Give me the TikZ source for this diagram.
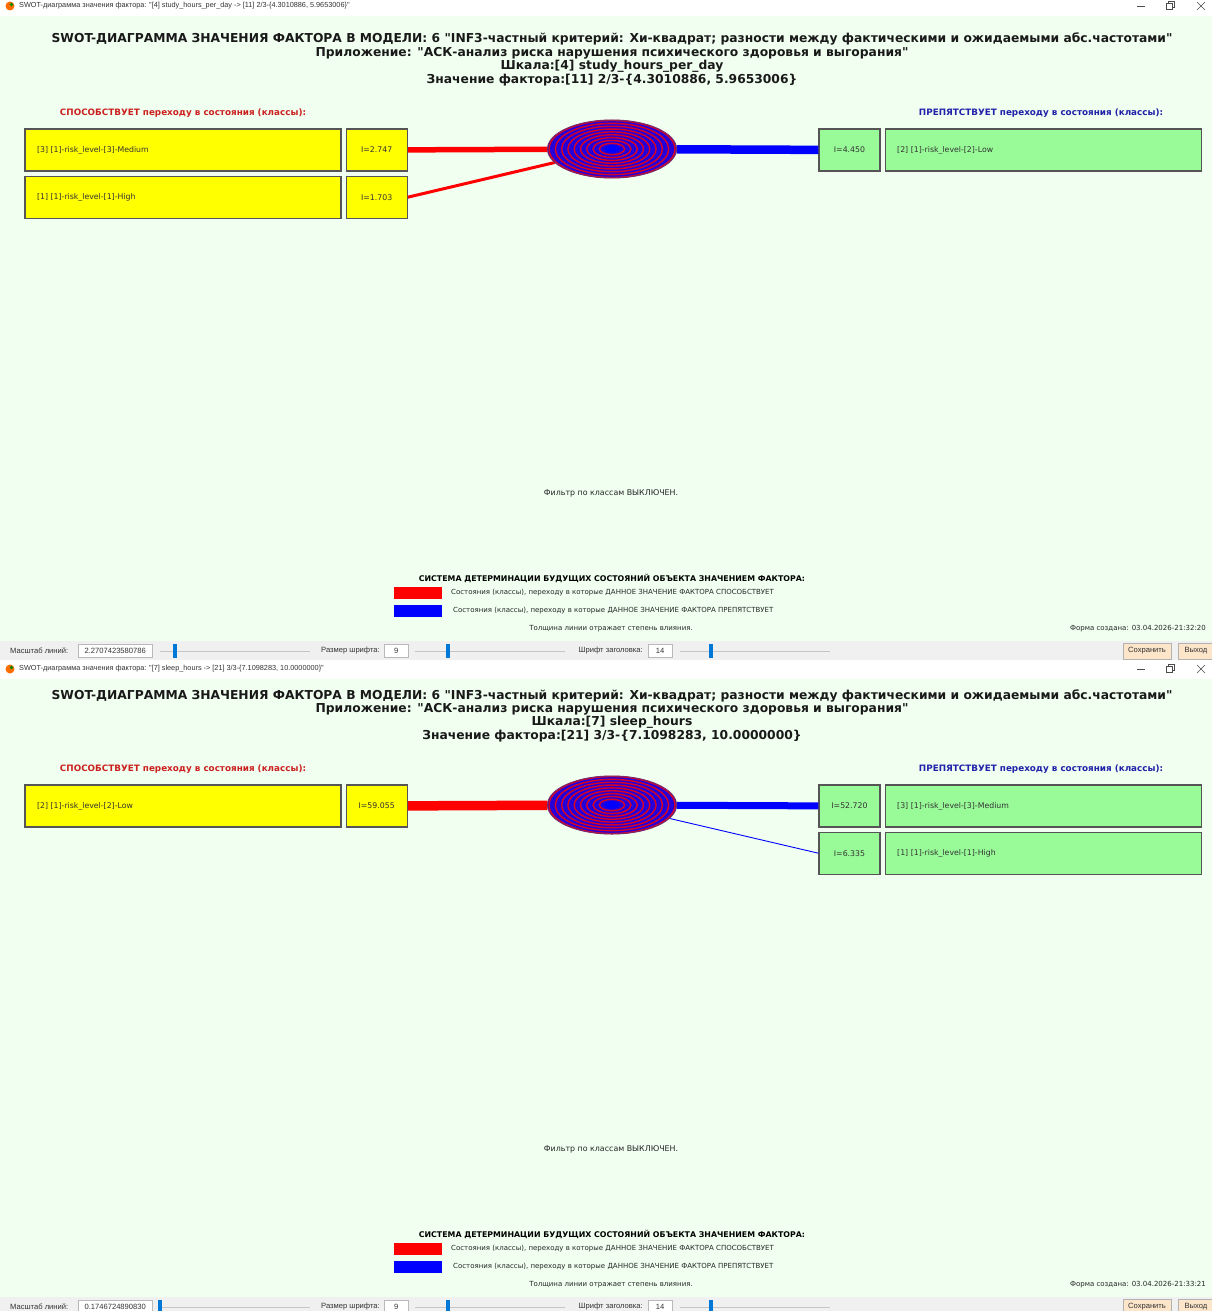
\documentclass[tikz,border=0pt]{standalone}
\usepackage{fontspec}
\setmainfont{DejaVu Sans}[Ligatures=TeXOff]
\newfontfamily\uifont{Liberation Sans}[Ligatures=TeXOff]
\usetikzlibrary{positioning}
\usetikzlibrary{shapes.geometric}
\definecolor{formbg}{HTML}{F0FFF0}
\definecolor{barbg}{HTML}{F0F0F0}
\definecolor{boxyellow}{HTML}{FFFF00}
\definecolor{boxgreen}{HTML}{98FB98}
\definecolor{boxedge}{HTML}{555555}
\definecolor{prored}{HTML}{CC2020}
\definecolor{conblue}{HTML}{2020AA}
\definecolor{thumbblue}{HTML}{0078D7}
\definecolor{btnfill}{HTML}{FDE5C9}
\definecolor{ringedge}{HTML}{7A2A6A}
\newcommand{\swottitle}{\fontsize{12.3}{13.4}\selectfont\bfseries}
\newcommand{\swothead}{\fontsize{8.8}{10}\selectfont\bfseries}
\newcommand{\swotcell}{\fontsize{7.8}{9}\selectfont}
\newcommand{\swotsmall}{\fontsize{7}{8}\selectfont}
\newcommand{\swotui}{\uifont\fontsize{7.6}{8}\selectfont}
\tikzset{cellbox/.style = {draw=boxedge, line width=1.2pt, minimum height=42pt,
                           inner sep=0pt, font=\swotcell, text=black!80}}
\tikzset{probox/.style = {cellbox, fill=boxyellow, text width=292pt, inner xsep=12pt, align=left}}
\tikzset{proval/.style = {cellbox, fill=boxyellow, minimum width=61pt}}
\tikzset{conbox/.style = {cellbox, fill=boxgreen, text width=292pt, inner xsep=12pt, align=left}}
\tikzset{conval/.style = {cellbox, fill=boxgreen, minimum width=61pt}}
\tikzset{hubnode/.style = {ellipse, minimum width=129pt, minimum height=58pt, inner sep=0pt}}
\tikzset{proline/.style = {red}}
\tikzset{conline/.style = {blue}}
\tikzset{smalltext/.style = {font=\swotsmall, inner sep=0pt, text=black!85}}
\tikzset{bartext/.style = {font=\swotui, inner sep=0pt, text=black!80}}
\tikzset{editbox/.style = {draw=gray!55, fill=white, minimum height=13pt, inner sep=0pt,
                           font=\swotui, text=black!80}}
\tikzset{swatch/.style = {minimum width=48pt, minimum height=12pt, inner sep=0pt}}
\tikzset{button/.style = {draw=gray!60, fill=btnfill, minimum height=16pt, inner sep=0pt,
                          font=\swotui, text=black!80}}

% common part of one form
\newcommand{\swotform}[5]{%
  \fill [formbg] (0,14) rectangle (1212,641);
  \node (title) [font=\swottitle, align=center, inner sep=0pt, text=black!90] at (612,59.5)
    {SWOT-ДИАГРАММА ЗНАЧЕНИЯ ФАКТОРА В МОДЕЛИ: 6 "INF3-частный критерий: Хи-квадрат; разности между фактическими и ожидаемыми абс.частотами"\\
     Приложение: "АСК-анализ риска нарушения психического здоровья и выгорания"\\
     Шкала:#1\\
     Значение фактора:#2};
  \node (prohead) [font=\swothead, text=prored, inner sep=0pt] at (183,113) {СПОСОБСТВУЕТ переходу в состояния (классы):};
  \node (conhead) [font=\swothead, text=conblue, inner sep=0pt] at (1041,113) {ПРЕПЯТСТВУЕТ переходу в состояния (классы):};
  \node (filter) [smalltext, font=\fontsize{7.9}{9}\selectfont] at (611,493) {Фильтр по классам ВЫКЛЮЧЕН.};
  \node (legend) [smalltext, font=\fontsize{7.85}{9}\selectfont\bfseries, text=black] at (612,578)
    {СИСТЕМА ДЕТЕРМИНАЦИИ БУДУЩИХ СОСТОЯНИЙ ОБЪЕКТА ЗНАЧЕНИЕМ ФАКТОРА:};
  \node (swpro) [swatch, fill=red] at (418,593) {};
  \node (txpro) [smalltext, anchor=west] at (451,593) {Состояния (классы), переходу в которые ДАННОЕ ЗНАЧЕНИЕ ФАКТОРА СПОСОБСТВУЕТ};
  \node (swcon) [swatch, fill=blue] at (418,611) {};
  \node (txcon) [smalltext, anchor=west] at (453,611) {Состояния (классы), переходу в которые ДАННОЕ ЗНАЧЕНИЕ ФАКТОРА ПРЕПЯТСТВУЕТ};
  \node (thick) [smalltext] at (611,629) {Толщина линии отражает степень влияния.};
  \node (created) [smalltext, anchor=east] at (1206,629) {Форма создана: #5};
  % status bar
  \fill [barbg] (0,641) rectangle (1212,660);
  \node (lscale) [bartext, anchor=west] at (10,651) {Масштаб линий:};
  \node (lsbox) [editbox, minimum width=74pt, anchor=west] at (78,651) {#3};
  \draw [gray!45] (160,651) -- (310,651);
  \fill [thumbblue] (#4-2,644) rectangle (#4+2,658);
  \node (fsize) [bartext, anchor=east] at (380,651) {Размер шрифта:};
  \node (fsbox) [editbox, minimum width=24pt, anchor=west] at (384,651) {9};
  \draw [gray!45] (415,651) -- (565,651);
  \fill [thumbblue] (446,644) rectangle (450,658);
  \node (hsize) [bartext, anchor=east] at (643,651) {Шрифт заголовка:};
  \node (hsbox) [editbox, minimum width=24pt, anchor=west] at (648,651) {14};
  \draw [gray!45] (680,651) -- (830,651);
  \fill [thumbblue] (709,644) rectangle (713,658);
  \node (save) [button, minimum width=48pt] at (1147,651) {Сохранить};
  \node (quit) [button, minimum width=36pt] at (1196,651) {Выход};
}

% rings of the factor value
\newcommand{\swotrings}{%
  \fill [blue!85!red] (hub.center) ellipse [x radius=64.5, y radius=29];
  \foreach \k [evaluate=\k as \rx using 6.3*\k, evaluate=\k as \ry using 2.85*\k] in {2,...,10}
    \draw [red!85!blue, line width=1.4pt] (hub.center) ellipse [x radius=\rx, y radius=\ry];
  \draw [ringedge, line width=1pt] (hub.center) ellipse [x radius=64.5, y radius=29];
  \fill [blue] (hub.center) ellipse [x radius=8, y radius=3.8];
}

% window caption
\newcommand{\swotcaption}[2]{%
  \fill [white] (0,#1-8) rectangle (1212,#1+10);
  \fill [orange!85!red] (10,#1) circle [radius=4.5];
  \fill [green!55!black] (11.5,#1-1.5) circle [radius=1.8];
  \node (caption) [bartext, font=\uifont\fontsize{7.3}{8}\selectfont, anchor=west] at (19,#1) {#2};
  \draw [black!70] (1137,#1) -- (1145,#1);
  \draw [black!70] (1166,#1-2.5) rectangle (1172,#1+3.5);
  \draw [black!70] (1168,#1-2.5) -- (1168,#1-4.5) -- (1174,#1-4.5) -- (1174,#1+1.5) -- (1172,#1+1.5);
  \draw [black!70] (1197,#1-4) -- (1205,#1+4);
  \draw [black!70] (1197,#1+4) -- (1205,#1-4);
}

\begin{document}
\begin{tikzpicture}[x=1pt, y=-1pt]
  \useasboundingbox (0,0) rectangle (1212,1311);
  % first form
  \swotform{[4] study\_hours\_per\_day}{[11] 2/3-\{4.3010886, 5.9653006\}}{2.2707423580786}{175}{03.04.2026-21:32:20}
  \node (lab1) [probox] at (183,150) {[3] [1]-risk\_level-[3]-Medium};
  \node (val1) [proval, right=4pt of lab1] {I=2.747};
  \node (lab2) [probox, below=4pt of lab1] {[1] [1]-risk\_level-[1]-High};
  \node (val2) [proval, right=4pt of lab2] {I=1.703};
  \node (rval1) [conval] at (849.5,150) {I=4.450};
  \node (rlab1) [conbox, right=4pt of rval1] {[2] [1]-risk\_level-[2]-Low};
  \node (hub) [hubnode] at (612,149) {};
  \draw [proline, line width=5.5pt] (val1) -- (hub);
  \draw [proline, line width=3pt] (val2.east) -- (hub);
  \draw [conline, line width=8.5pt] (hub) -- (rval1);
  \swotrings
  \swotcaption{6}{SWOT-диаграмма значения фактора: "[4] study\_hours\_per\_day -> [11] 2/3-\{4.3010886, 5.9653006\}"}

  % second form
  \begin{scope}[shift={(0,656)}, name prefix=b-]
    \swotform{[7] sleep\_hours}{[21] 3/3-\{7.1098283, 10.0000000\}}{0.1746724890830}{160}{03.04.2026-21:33:21}
    \node (lab1) [probox] at (183,150) {[2] [1]-risk\_level-[2]-Low};
    \node (val1) [proval, right=4pt of lab1] {I=59.055};
    \node (rval1) [conval] at (849.5,150) {I=52.720};
    \node (rlab1) [conbox, right=4pt of rval1] {[3] [1]-risk\_level-[3]-Medium};
    \node (rval2) [conval, below=4pt of rval1] {I=6.335};
    \node (rlab2) [conbox, right=4pt of rval2] {[1] [1]-risk\_level-[1]-High};
    \node (hub) [hubnode] at (612,149) {};
    \draw [proline, line width=9.5pt] (val1) -- (hub);
    \draw [conline, line width=7pt] (hub) -- (rval1);
    \draw [conline, line width=0.9pt] (hub) -- (rval2.west);
    \swotrings
    \swotcaption{13}{SWOT-диаграмма значения фактора: "[7] sleep\_hours -> [21] 3/3-\{7.1098283, 10.0000000\}"}
  \end{scope}
\end{tikzpicture}
\end{document}
